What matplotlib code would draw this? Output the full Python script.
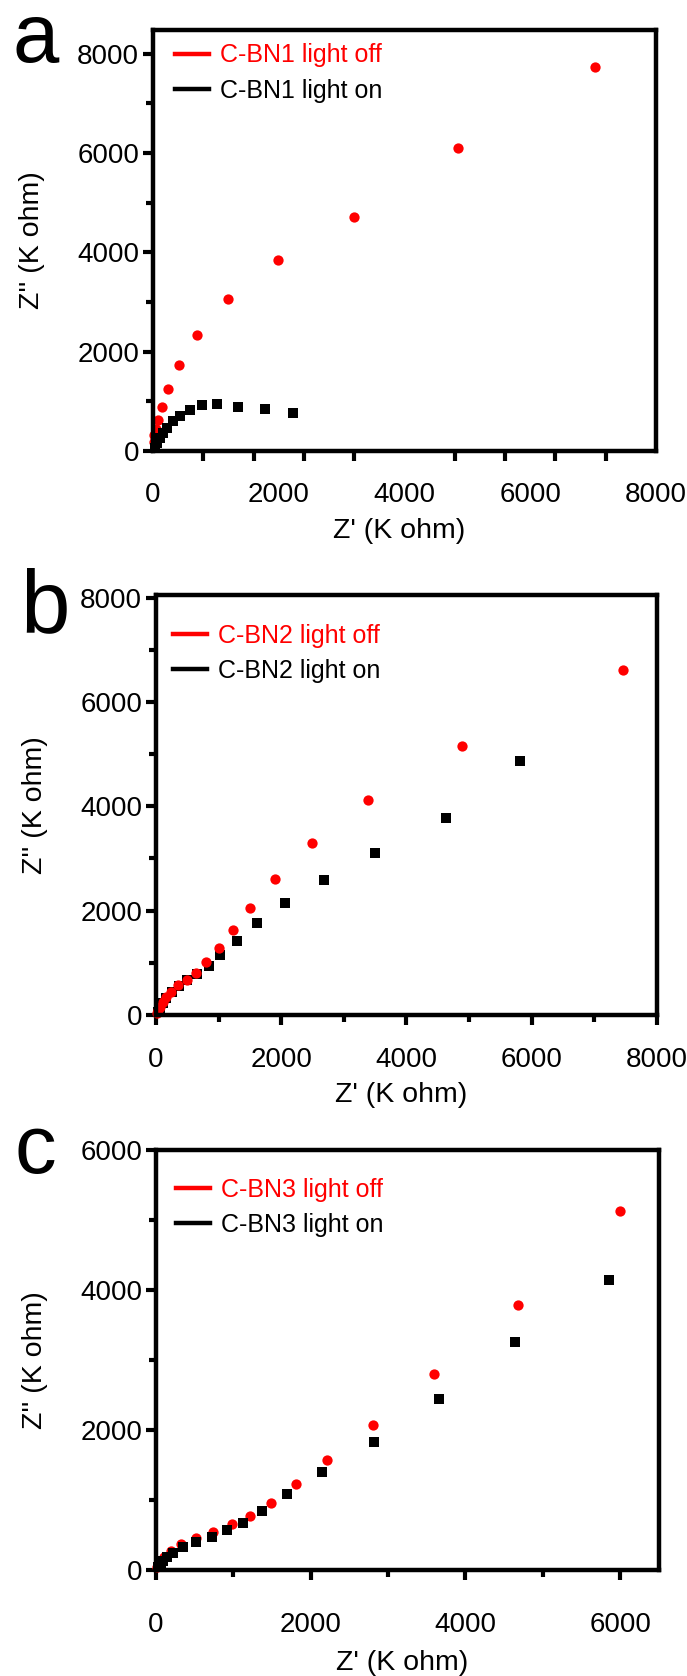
import matplotlib
matplotlib.use('Agg')
import matplotlib.pyplot as plt
from matplotlib.lines import Line2D
from matplotlib.ticker import MultipleLocator, FixedLocator
import numpy as np

plt.rcParams['font.family'] = ['Liberation Sans', 'DejaVu Sans']

# ---- data (K ohm) ----
a_off_x = [7031, 4854, 3201, 1988, 1200, 704, 410, 235, 142, 85, 45, 22, 10]
a_off_y = [7726, 6105, 4721, 3849, 3056, 2342, 1730, 1240, 880, 615, 445, 320, 180]
a_on_x = [2220, 1780, 1358, 1012, 772, 582, 433, 320, 229, 160, 106, 64, 27]
a_on_y = [772, 842, 884, 939, 918, 835, 713, 602, 470, 356, 255, 154, 67]

b_off_x = [7460, 4885, 3387, 2491, 1903, 1507, 1238, 1009, 799, 642, 490, 357, 236, 160, 106, 64, 33, 12]
b_off_y = [6612, 5149, 4116, 3296, 2612, 2060, 1622, 1276, 1018, 814, 675, 566, 438, 336, 240, 158, 92, 45]
b_on_x = [5815, 4640, 3506, 2680, 2064, 1617, 1290, 1030, 842, 654, 500, 370, 250, 165, 105, 60, 28]
b_on_y = [4862, 3781, 3111, 2585, 2153, 1757, 1411, 1143, 939, 785, 670, 560, 440, 330, 230, 140, 65]

c_off_x = [5994, 4682, 3597, 2801, 2213, 1805, 1484, 1217, 983, 740, 517, 321, 191, 99, 44, 15]
c_off_y = [5132, 3793, 2794, 2069, 1575, 1227, 958, 775, 654, 551, 459, 368, 272, 193, 121, 50]
c_on_x = [5851, 4642, 3660, 2813, 2140, 1688, 1373, 1119, 913, 719, 516, 344, 224, 146, 95, 60, 30]
c_on_y = [4143, 3256, 2444, 1833, 1394, 1082, 846, 678, 567, 471, 394, 327, 240, 183, 125, 87, 38]

RED = '#ff0000'
FS = 20

fig = plt.figure(figsize=(6.87, 16.76), dpi=100)

panels = [
    # letter, sample, off, on, rect, xlim, ylim, red on top, legend anchor, xtick pad, letter pos, letter size
    ('a', 'C-BN1', (a_off_x, a_off_y), (a_on_x, a_on_y),
     [0.2227, 0.7309, 0.7322, 0.2512], (0, 8000), (0, 8480), False, (0.044, 0.968), 14, (12, 62), 60),
    ('b', 'C-BN2', (b_off_x, b_off_y), (b_on_x, b_on_y),
     [0.227, 0.3944, 0.729, 0.2506], (0, 8000), (0, 8050), True, (0.034, 0.932), 16, (20, 632), 64),
    ('c', 'C-BN3', (c_off_x, c_off_y), (c_on_x, c_on_y),
     [0.227, 0.0632, 0.732, 0.2506], (0, 6500), (0, 6000), False, (0.040, 0.934), 23, (15, 1173), 60),
]

for letter, name, off, on, rect, xl, yl, red_top, leg_xy, xpad, let_xy, let_fs in panels:
    ax = fig.add_axes(rect)
    z_off = 4 if red_top else 3
    z_on = 3 if red_top else 4
    ax.plot(off[0], off[1], 'o', color=RED, markersize=7.4, markeredgewidth=0,
            linestyle='none', zorder=z_off, clip_on=False)
    ax.plot(on[0], on[1], 's', color='black', markersize=6.6, markeredgewidth=0,
            linestyle='none', zorder=z_on, clip_on=False)
    ax.set_xlim(*xl)
    ax.set_ylim(*yl)

    for s in ax.spines.values():
        s.set_linewidth(3.2)
        s.set_zorder(5)

    ax.yaxis.set_major_locator(MultipleLocator(2000))
    ax.yaxis.set_minor_locator(MultipleLocator(1000))
    if letter == 'a':
        # tick marks sit every 800 while labels sit every 2000
        ax.xaxis.set_major_locator(FixedLocator([0, 2000, 4000, 6000, 8000]))
        ax.xaxis.set_minor_locator(FixedLocator(np.arange(0, 8001, 800)))
        ax.tick_params(axis='x', which='major', length=0, pad=xpad + 8)
        ax.tick_params(axis='x', which='minor', length=7, width=3)
    else:
        ax.xaxis.set_major_locator(MultipleLocator(2000))
        ax.xaxis.set_minor_locator(MultipleLocator(1000))
        ax.tick_params(axis='x', which='major', length=7, width=3, pad=xpad)
        ax.tick_params(axis='x', which='minor', length=5, width=3)
    ax.tick_params(axis='y', which='major', length=7, width=3, pad=3)
    ax.tick_params(axis='y', which='minor', length=5, width=3)
    ax.tick_params(which='both', direction='out', labelsize=FS, top=False, right=False)

    ax.set_xlabel("Z' (K ohm)", fontsize=FS + 0.5)
    ax.set_ylabel("Z'' (K ohm)", fontsize=FS + 0.5)
    ax.xaxis.set_label_coords(0.49, -0.16 if letter != 'c' else -0.19)
    ax.yaxis.set_label_coords(-0.215, 0.5)

    handles = [Line2D([], [], color=RED, lw=3.2), Line2D([], [], color='black', lw=3.2)]
    ax.legend(handles, [name + ' light off', name + ' light on'], loc='upper left',
              bbox_to_anchor=leg_xy, frameon=False, fontsize=18, borderpad=0,
              borderaxespad=0, handlelength=1.35, handletextpad=0.45,
              labelspacing=0.45, labelcolor=[RED, 'black'])

    fig.text(let_xy[0] / 687, 1 - let_xy[1] / 1676, letter, fontsize=let_fs,
             ha='left', va='baseline')

fig.savefig('out.png', dpi=100)
